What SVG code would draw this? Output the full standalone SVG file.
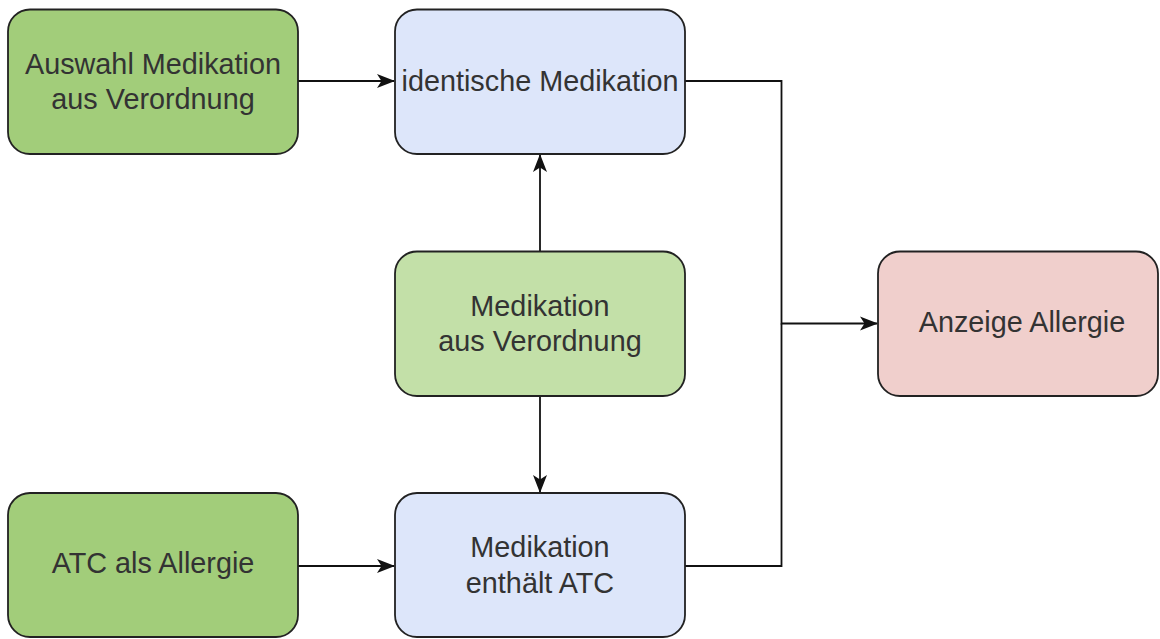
<svg xmlns="http://www.w3.org/2000/svg" width="1160" height="639" viewBox="0 0 1160 639">
<style>
.n{stroke:#222;stroke-width:1.8}
.g1{fill:#a2cd7a}
.g2{fill:#c3e0a8}
.b{fill:#dde6fa}
.r{fill:#f0cfcc}
.t{font-family:"Liberation Sans",Arial,sans-serif;font-size:28.8px;fill:#333;text-anchor:middle}
.c{fill:none;stroke:#111;stroke-width:1.8}
</style>
<defs>
<marker id="ah" viewBox="0 0 18 16" refX="17" refY="8" markerWidth="18" markerHeight="16" markerUnits="userSpaceOnUse" orient="auto">
<path d="M0,1 L18,8 L0,15 L4.5,8 Z" fill="#111"/>
</marker>
</defs>
<rect width="1160" height="639" fill="#fff"/>
<g id="connectors">
<path class="c" d="M298,81 H394" marker-end="url(#ah)"/>
<path class="c" d="M540,251 V155" marker-end="url(#ah)"/>
<path class="c" d="M540,396 V492" marker-end="url(#ah)"/>
<path class="c" d="M298,566 H394" marker-end="url(#ah)"/>
<path class="c" d="M685,81 H781.5 V323.5 H877" marker-end="url(#ah)"/>
<path class="c" d="M685,566 H781.5 V323.5"/>
</g>
<g id="n1">
<rect class="n g1" x="8" y="9.5" width="290" height="144.5" rx="22"/>
<text class="t" x="153" y="73.5">Auswahl Medikation</text>
<text class="t" x="153" y="108.5">aus Verordnung</text>
</g>
<g id="n2">
<rect class="n b" x="395" y="9.5" width="290" height="144.5" rx="22"/>
<text class="t" x="540" y="91">identische Medikation</text>
</g>
<g id="n3">
<rect class="n g2" x="395" y="251.5" width="290" height="144.5" rx="22"/>
<text class="t" x="540" y="315.5">Medikation</text>
<text class="t" x="540" y="350.5">aus Verordnung</text>
</g>
<g id="n4">
<rect class="n r" x="878" y="251.5" width="280" height="144.5" rx="22"/>
<text class="t" x="1022" y="332">Anzeige Allergie</text>
</g>
<g id="n5">
<rect class="n g1" x="8" y="493" width="290" height="144" rx="22"/>
<text class="t" x="153" y="573">ATC als Allergie</text>
</g>
<g id="n6">
<rect class="n b" x="395" y="493" width="290" height="144" rx="22"/>
<text class="t" x="540" y="557">Medikation</text>
<text class="t" x="540" y="592.5">enthält ATC</text>
</g>
</svg>
